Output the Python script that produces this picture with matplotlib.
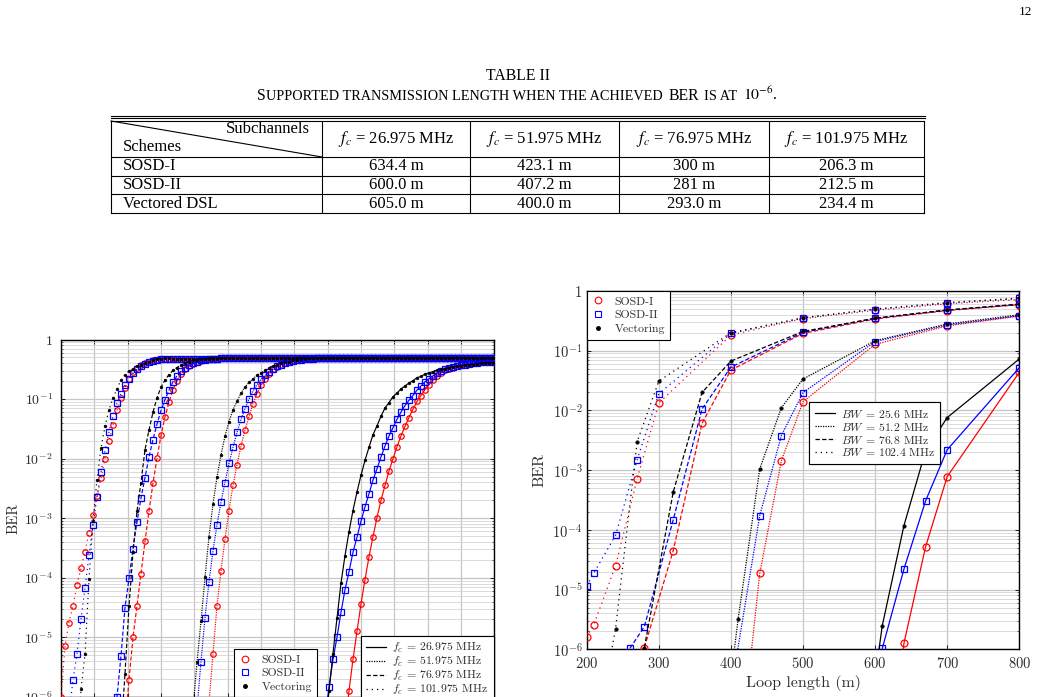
import numpy as np
import matplotlib
matplotlib.use("Agg")
import matplotlib.pyplot as plt
from matplotlib.lines import Line2D
from matplotlib.offsetbox import TextArea, HPacker, AnnotationBbox
from matplotlib.ticker import FixedLocator, NullFormatter, LogLocator

plt.rcParams['mathtext.fontset'] = 'cm'
plt.rcParams['axes.formatter.use_mathtext'] = True

# ---------------------------------------------------------------- table data
table_schemes = ['SOSD-I', 'SOSD-II', 'Vectored DSL']
table_freqs = ['26.975', '51.975', '76.975', '101.975']
table_lengths = [['634.4 m', '423.1 m', '300 m', '206.3 m'],
                 ['600.0 m', '407.2 m', '281 m', '212.5 m'],
                 ['605.0 m', '400.0 m', '293.0 m', '234.4 m']]

# ---------------------------------------------------------------- left plot data
# loop lengths sampled every 6 m (log10 BER listed from the first sample index)
loop_left = np.arange(200, 851, 6)
left_fc_labels = ['26.975', '51.975', '76.975', '101.975']
# common saturated band (sample index 28 .. 108)
band_top_log = [-0.32, -0.32, -0.32, -0.32, -0.32, -0.32, -0.32, -0.32, -0.32, -0.32,
                -0.32, -0.32, -0.31, -0.31, -0.31, -0.31, -0.31, -0.31, -0.31, -0.31,
                -0.31, -0.31, -0.31, -0.31, -0.31, -0.31, -0.31, -0.31, -0.31, -0.31,
                -0.31, -0.31, -0.31, -0.31, -0.31, -0.31, -0.31, -0.31, -0.31, -0.31,
                -0.31, -0.31, -0.31, -0.31, -0.31, -0.31, -0.31, -0.31, -0.31, -0.31,
                -0.31, -0.31, -0.31, -0.31, -0.31, -0.31, -0.31, -0.31, -0.31, -0.31,
                -0.31, -0.31, -0.31, -0.31, -0.31, -0.31, -0.31, -0.31, -0.31, -0.31,
                -0.31, -0.31, -0.31, -0.31, -0.31, -0.31, -0.31, -0.31, -0.31, -0.31,
                -0.31]
band_start = 28

# fc = 101.975 MHz
f101_sosd1_start = 0
f101_sosd1_log = [-6.00, -5.15, -4.75, -4.47, -4.12, -3.84, -3.56, -3.25, -2.95, -2.63,
                  -2.33, -2.00, -1.71, -1.43, -1.19, -0.99, -0.81, -0.66, -0.54, -0.47,
                  -0.42, -0.39, -0.37, -0.35, -0.34, -0.33, -0.33, -0.32]
f101_sosd2_start = 0
f101_sosd2_log = [-7.30, -6.80, -6.30, -5.71, -5.28, -4.69, -4.17, -3.62, -3.12, -2.64,
                  -2.22, -1.86, -1.55, -1.29, -1.07, -0.91, -0.77, -0.66, -0.57, -0.50,
                  -0.45, -0.41, -0.38, -0.36, -0.34, -0.33, -0.32, -0.32]
f101_vect_start = 4
f101_vect_log = [-7.00, -5.87, -5.28, -4.02, -3.05, -2.35, -1.82, -1.46, -1.18, -0.98,
                 -0.83, -0.68, -0.59, -0.53, -0.49, -0.45, -0.42, -0.39, -0.37, -0.35,
                 -0.33, -0.32, -0.31, -0.31]
# fc = 76.975 MHz
f76_sosd1_start = 15
f76_sosd1_log = [-7.30, -6.50, -5.71, -5.00, -4.47, -3.93, -3.39, -2.88, -2.41, -1.99,
                 -1.61, -1.30, -1.05, -0.84, -0.69, -0.58, -0.50, -0.45, -0.41, -0.38,
                 -0.36, -0.34, -0.33, -0.32, -0.32]
f76_sosd2_start = 13
f76_sosd2_log = [-6.80, -6.00, -5.31, -4.50, -4.01, -3.51, -3.06, -2.66, -2.32, -1.97,
                 -1.68, -1.42, -1.19, -1.01, -0.85, -0.71, -0.61, -0.53, -0.47, -0.43,
                 -0.40, -0.37, -0.35, -0.34, -0.33, -0.32, -0.32]
f76_vect_start = 14
f76_vect_log = [-7.50, -6.60, -5.61, -4.48, -3.57, -2.88, -2.40, -1.85, -1.52, -1.22,
                -0.98, -0.80, -0.68, -0.59, -0.52, -0.47, -0.43, -0.40, -0.37, -0.35,
                -0.34, -0.33, -0.32, -0.31, -0.31, -0.31]
# fc = 51.975 MHz
f51_sosd1_start = 35
f51_sosd1_log = [-8.00, -7.00, -6.10, -5.27, -4.47, -3.88, -3.35, -2.87, -2.45, -2.10,
                 -1.79, -1.52, -1.29, -1.08, -0.91, -0.77, -0.66, -0.58, -0.50, -0.46,
                 -0.42, -0.39, -0.37, -0.35, -0.34, -0.33, -0.32, -0.32, -0.31]
f51_sosd2_start = 33
f51_sosd2_log = [-7.00, -6.20, -5.41, -4.67, -4.07, -3.55, -3.11, -2.73, -2.40, -2.08,
                 -1.81, -1.56, -1.34, -1.16, -1.00, -0.87, -0.76, -0.67, -0.60, -0.54,
                 -0.49, -0.45, -0.42, -0.40, -0.38, -0.36, -0.35, -0.34, -0.33, -0.33,
                 -0.32]
f51_vect_start = 32
f51_vect_log = [-7.20, -6.20, -5.42, -4.73, -3.99, -3.31, -2.76, -2.31, -1.94, -1.62,
                -1.38, -1.18, -1.04, -0.90, -0.80, -0.72, -0.66, -0.60, -0.56, -0.52,
                -0.48, -0.45, -0.42, -0.40, -0.38, -0.37, -0.35, -0.34, -0.33, -0.32,
                -0.31, -0.31]
# fc = 26.975 MHz
f26_sosd1_start = 70
f26_sosd1_log = [-7.20, -6.50, -5.90, -5.37, -4.90, -4.44, -4.03, -3.65, -3.31, -2.99,
                 -2.70, -2.45, -2.21, -2.00, -1.80, -1.62, -1.46, -1.31, -1.17, -1.04,
                 -0.94, -0.84, -0.76, -0.68, -0.62, -0.56, -0.52, -0.49, -0.47, -0.45,
                 -0.43, -0.42, -0.41, -0.40, -0.39, -0.38, -0.38, -0.37, -0.37]
f26_sosd2_start = 64
f26_sosd2_log = [-7.40, -6.90, -6.35, -5.84, -5.37, -5.00, -4.58, -4.20, -3.90, -3.57,
                 -3.32, -3.05, -2.81, -2.59, -2.36, -2.17, -1.97, -1.79, -1.62, -1.48,
                 -1.34, -1.22, -1.11, -1.02, -0.94, -0.85, -0.78, -0.71, -0.66, -0.61,
                 -0.56, -0.53, -0.50, -0.48, -0.46, -0.44, -0.43, -0.42, -0.41, -0.40,
                 -0.39, -0.38, -0.38, -0.37, -0.37]
f26_vect_start = 65
f26_vect_log = [-7.10, -6.50, -5.90, -5.27, -4.68, -4.09, -3.63, -3.23, -2.87, -2.56,
                -2.28, -2.03, -1.81, -1.60, -1.45, -1.29, -1.15, -1.06, -0.96, -0.90,
                -0.83, -0.78, -0.73, -0.69, -0.64, -0.62, -0.58, -0.56, -0.54, -0.52,
                -0.50, -0.49, -0.47, -0.46, -0.45, -0.44, -0.43, -0.42, -0.42, -0.41,
                -0.40, -0.40, -0.39, -0.39]

# ---------------------------------------------------------------- right plot data
bw_labels = ['25.6', '51.2', '76.8', '102.4']
# BW = 102.4 MHz
bw102_sosd1_x = [200, 210, 240, 270, 300, 400, 500, 600, 700, 800]
bw102_sosd1_ber = [1.6e-6, 2.6e-6, 2.5e-5, 7.2e-4, 1.33e-2, 0.183, 0.345, 0.475, 0.61, 0.72]
bw102_sosd2_x = [200, 210, 240, 270, 300, 400, 500, 600, 700, 800]
bw102_sosd2_ber = [1.15e-5, 1.9e-5, 8.1e-5, 1.5e-3, 1.9e-2, 0.195, 0.35, 0.49, 0.62, 0.75]
bw102_vect_x = [230, 240, 270, 300, 400, 500, 600, 700, 800]
bw102_vect_ber = [4.9e-7, 2.2e-6, 3.0e-3, 3.1e-2, 0.20, 0.358, 0.50, 0.64, 0.76]
# BW = 76.8 MHz
bw76_sosd1_x = [280, 320, 360, 400, 500, 600, 700, 800]
bw76_sosd1_ber = [1.07e-6, 4.5e-5, 6.1e-3, 4.75e-2, 0.195, 0.34, 0.47, 0.59]
bw76_sosd2_x = [260, 280, 320, 360, 400, 500, 600, 700, 800]
bw76_sosd2_ber = [1.04e-6, 2.4e-6, 1.47e-4, 1.06e-2, 5.3e-2, 0.203, 0.35, 0.48, 0.60]
bw76_vect_x = [280, 320, 360, 400, 500, 600, 700, 800]
bw76_vect_ber = [1.07e-6, 4.3e-4, 2.0e-2, 6.7e-2, 0.21, 0.35, 0.48, 0.60]
# BW = 51.2 MHz
bw51_sosd1_x = [410, 440, 470, 500, 600, 700, 800]
bw51_sosd1_ber = [7.9e-9, 1.87e-5, 1.43e-3, 1.4e-2, 0.128, 0.26, 0.38]
bw51_sosd2_x = [400, 440, 470, 500, 600, 700, 800]
bw51_sosd2_ber = [2.0e-7, 1.73e-4, 3.8e-3, 1.99e-2, 0.142, 0.27, 0.386]
bw51_vect_x = [400, 410, 440, 470, 500, 600, 700, 800]
bw51_vect_ber = [3.4e-7, 3.2e-6, 1.05e-3, 1.11e-2, 3.36e-2, 0.147, 0.28, 0.40]
# BW = 25.6 MHz
bw25_sosd1_x = [610, 640, 670, 700, 800]
bw25_sosd1_ber = [1.0e-9, 1.26e-6, 5.2e-5, 7.8e-4, 4.35e-2]
bw25_sosd2_x = [610, 640, 670, 700, 800]
bw25_sosd2_ber = [1.04e-6, 2.2e-5, 3.05e-4, 2.2e-3, 5.2e-2]
bw25_vect_x = [600, 610, 640, 670, 700, 800]
bw25_vect_ber = [3.4e-7, 2.5e-6, 1.18e-4, 2.1e-3, 7.6e-3, 7.27e-2]

# ---------------------------------------------------------------- figure
W, H = 1038, 697
fig = plt.figure(figsize=(W / 100, H / 100), dpi=100)
SERIF = 'Liberation Serif'
CM = 'cmr10'
TXT = '#2e2e2e'


def fx(x):
    return x / W


def fy(y):
    return 1 - y / H


def fline(xs, ys, lw=0.8):
    fig.add_artist(Line2D([fx(v) for v in xs], [fy(v) for v in ys],
                          transform=fig.transFigure, color='k', lw=lw))


# page number
fig.text(fx(1025), fy(12), '12', ha='center', va='center', family=SERIF, size=9.5)

# caption
CAP = 11.3
fig.text(fx(517.5), fy(76), 'TABLE II', ha='center', va='center', family=SERIF, size=CAP)
big = dict(family=SERIF, size=CAP, color='k', math_fontfamily='stix')
small = dict(family=SERIF, size=10.3, color='k')
first = HPacker(children=[TextArea('S', textprops=big),
                          TextArea('UPPORTED TRANSMISSION LENGTH WHEN THE ACHIEVED', textprops=small)],
                sep=0, pad=0, align='baseline')
sub = HPacker(children=[first, TextArea('BER', textprops=big), TextArea('IS AT', textprops=small),
                        TextArea(r'$10^{-6}$.', textprops=big)],
              sep=4, pad=0, align='baseline')
fig.add_artist(AnnotationBbox(sub, (fx(517.5), fy(95)), xycoords='figure fraction',
                              frameon=False, box_alignment=(0.5, 0.5), pad=0))

# table
col_edges = [111, 322, 470, 619, 769, 924]
row_edges = [121, 157, 176, 194, 213]
fline([111, 925], [115.5, 115.5], lw=0.8)
fline([111, 925], [117.8, 117.8], lw=0.8)
for y in row_edges:
    fline([col_edges[0], col_edges[-1]], [y, y])
for x in col_edges:
    fline([x, x], [row_edges[0], row_edges[-1]])
fline([col_edges[0], col_edges[1]], [row_edges[0], row_edges[1]])
TS = 12.0
fig.text(fx(310), fy(129), 'Subchannels', ha='right', va='center', family=SERIF, size=TS)
fig.text(fx(123), fy(147), 'Schemes', ha='left', va='center', family=SERIF, size=TS)
for i, f in enumerate(table_freqs):
    cx = (col_edges[i + 1] + col_edges[i + 2]) / 2
    fig.text(fx(cx), fy(139), r'$f_c$ = %s MHz' % f, ha='center', va='center',
             family=SERIF, size=TS, math_fontfamily='stix')
for r, name in enumerate(table_schemes):
    cy = (row_edges[r + 1] + row_edges[r + 2]) / 2
    fig.text(fx(123), fy(cy), name, ha='left', va='center', family=SERIF, size=TS)
    for i, val in enumerate(table_lengths[r]):
        cx = (col_edges[i + 1] + col_edges[i + 2]) / 2
        fig.text(fx(cx), fy(cy), val, ha='center', va='center', family=SERIF, size=TS)


# ---------------------------------------------------------------- axes helpers
def style_axes(ax, xlim, xticks, labelsize, ypad, xpad):
    ax.set_yscale('log')
    ax.set_xlim(*xlim)
    ax.set_ylim(1e-6, 1)
    ax.set_xticks(xticks)
    ax.yaxis.set_major_locator(FixedLocator(10.0 ** np.arange(-6, 1)))
    ax.set_yticklabels([r'$10^{-6}$', r'$10^{-5}$', r'$10^{-4}$', r'$10^{-3}$',
                        r'$10^{-2}$', r'$10^{-1}$', r'$1$'])
    ax.yaxis.set_minor_locator(LogLocator(base=10, subs=np.arange(2, 10), numticks=20))
    ax.yaxis.set_minor_formatter(NullFormatter())
    ax.grid(True, which='major', color='#c6c6c6', lw=0.9)
    ax.grid(True, which='minor', axis='y', color='#d4d4d4', lw=0.6)
    ax.set_axisbelow(True)
    ax.tick_params(which='both', direction='in', top=True, right=True,
                   labelsize=labelsize, labelcolor=TXT)
    ax.tick_params(axis='y', pad=ypad)
    ax.tick_params(axis='x', pad=xpad)
    ax.tick_params(which='major', length=3, width=0.6)
    ax.tick_params(which='minor', length=1.5, width=0.4)
    for lab in ax.get_xticklabels():
        lab.set_family(CM)
    for s in ax.spines.values():
        s.set_linewidth(1.0)


styles = {'solid': '-', 'fine': (0, (1, 1)), 'dash': (0, (3.5, 1.8)), 'sparse': (0, (1, 3.2))}


def left_series(start, vals):
    full = list(vals)
    nxt = start + len(vals)
    if nxt < len(loop_left):
        full = full + band_top_log[nxt - band_start:]
    x = loop_left[start:start + len(full)]
    return x, 10.0 ** np.array(full)


# ---------------------------------------------------------------- left plot
axL = fig.add_axes([fx(61), fy(697), (494.3 - 61) / W, (697 - 339.5) / H])
style_axes(axL, (200, 850), np.arange(200, 851, 50), 10, 6, 4)
axL.tick_params(axis='x', labelbottom=False)   # x labels lie below the visible page area

left_groups = [
    ('sparse', (f101_sosd1_start, f101_sosd1_log), (f101_sosd2_start, f101_sosd2_log), (f101_vect_start, f101_vect_log)),
    ('dash', (f76_sosd1_start, f76_sosd1_log), (f76_sosd2_start, f76_sosd2_log), (f76_vect_start, f76_vect_log)),
    ('fine', (f51_sosd1_start, f51_sosd1_log), (f51_sosd2_start, f51_sosd2_log), (f51_vect_start, f51_vect_log)),
    ('solid', (f26_sosd1_start, f26_sosd1_log), (f26_sosd2_start, f26_sosd2_log), (f26_vect_start, f26_vect_log)),
]
LW_L = 0.85
for st, s1, s2, v in left_groups:
    x, y = left_series(*s1)
    axL.plot(x, y, ls=styles[st], color='red', lw=LW_L, marker='o', ms=3.9, mfc='none', mec='red', mew=0.9, zorder=3)
for st, s1, s2, v in left_groups:
    x, y = left_series(*s2)
    axL.plot(x, y, ls=styles[st], color='blue', lw=LW_L, marker='s', ms=3.7, mfc='none', mec='blue', mew=0.9, zorder=4)
for st, s1, s2, v in left_groups:
    x, y = left_series(*v)
    axL.plot(x, y, ls=styles[st], color='black', lw=LW_L, marker='o', ms=2.1, mfc='black', mec='black', mew=0.3, zorder=5)

axL.set_ylabel('BER', family=CM, size=10.5, color=TXT)
axL.yaxis.label.set_va('center')
axL.yaxis.set_label_coords((14 - 61) / 433.3, 0.5)

legprops = dict(family=CM, size=8.5)
mk_handles = [Line2D([], [], ls='none', marker='o', mfc='none', mec='red', ms=4.8, mew=0.8),
              Line2D([], [], ls='none', marker='s', mfc='none', mec='blue', ms=4.6, mew=0.8),
              Line2D([], [], ls='none', marker='o', mfc='black', mec='black', ms=2.5)]
mk_labels = ['SOSD-I', 'SOSD-II', 'Vectoring']


def make_legend(ax, handles, labels, loc, anchor, hl, htp, ls):
    leg = ax.legend(handles, labels, loc=loc, bbox_to_anchor=anchor, borderaxespad=0,
                    prop=legprops, labelcolor=TXT, handlelength=hl, handletextpad=htp,
                    labelspacing=ls, borderpad=0.45, fancybox=False, framealpha=1,
                    edgecolor='black')
    leg.get_frame().set_linewidth(0.8)
    leg.set_zorder(10)
    ax.add_artist(leg)
    return leg


make_legend(axL, mk_handles, mk_labels, 'upper left', (0.399, 0.1334), 1.0, 0.9, 0.28)
line_handles = [Line2D([], [], color='black', lw=0.9, ls=styles[s]) for s in ['solid', 'fine', 'dash', 'sparse']]
make_legend(axL, line_handles, [r'$f_c$ = %s MHz' % f for f in left_fc_labels],
            'upper right', (0.9985, 0.1715), 1.7, 0.5, 0.0)

# ---------------------------------------------------------------- right plot
axR = fig.add_axes([fx(586.7), fy(649.3), (1019.3 - 586.7) / W, (649.3 - 291) / H])
style_axes(axR, (200, 800), np.arange(200, 801, 100), 10.5, 3, 5)

right_groups = [
    ('sparse', (bw102_sosd1_x, bw102_sosd1_ber), (bw102_sosd2_x, bw102_sosd2_ber), (bw102_vect_x, bw102_vect_ber)),
    ('dash', (bw76_sosd1_x, bw76_sosd1_ber), (bw76_sosd2_x, bw76_sosd2_ber), (bw76_vect_x, bw76_vect_ber)),
    ('fine', (bw51_sosd1_x, bw51_sosd1_ber), (bw51_sosd2_x, bw51_sosd2_ber), (bw51_vect_x, bw51_vect_ber)),
    ('solid', (bw25_sosd1_x, bw25_sosd1_ber), (bw25_sosd2_x, bw25_sosd2_ber), (bw25_vect_x, bw25_vect_ber)),
]
LW_R = 0.9
for st, s1, s2, v in right_groups:
    axR.plot(*s1, ls=styles[st], color='red', lw=LW_R, marker='o', ms=5.0, mfc='none', mec='red', mew=0.9, zorder=3)
    axR.plot(*s2, ls=styles[st], color='blue', lw=LW_R, marker='s', ms=4.6, mfc='none', mec='blue', mew=0.9, zorder=4)
    axR.plot(*v, ls=styles[st], color='black', lw=LW_R, marker='o', ms=2.6, mfc='black', mec='black', mew=0.3, zorder=5)

axR.set_ylabel('BER', family=CM, size=11.5, color=TXT)
axR.yaxis.label.set_va('center')
axR.yaxis.set_label_coords((539.3 - 586.7) / 432.6, 0.5)
axR.set_xlabel('Loop length (m)', family=CM, size=11.5, color=TXT)
axR.xaxis.label.set_va('center')
axR.xaxis.set_label_coords(0.5, (649.3 - 683.3) / 358.3)

make_legend(axR, mk_handles, mk_labels, 'upper left', (0.0, 1.0), 1.0, 0.9, 0.3)
make_legend(axR, line_handles, [r'$BW$ = %s MHz' % b for b in bw_labels],
            'upper left', ((809.3 - 586.7) / 432.6, (649.3 - 402.3) / 358.3), 1.7, 0.5, 0.08)

fig.savefig('out.png', dpi=100)
